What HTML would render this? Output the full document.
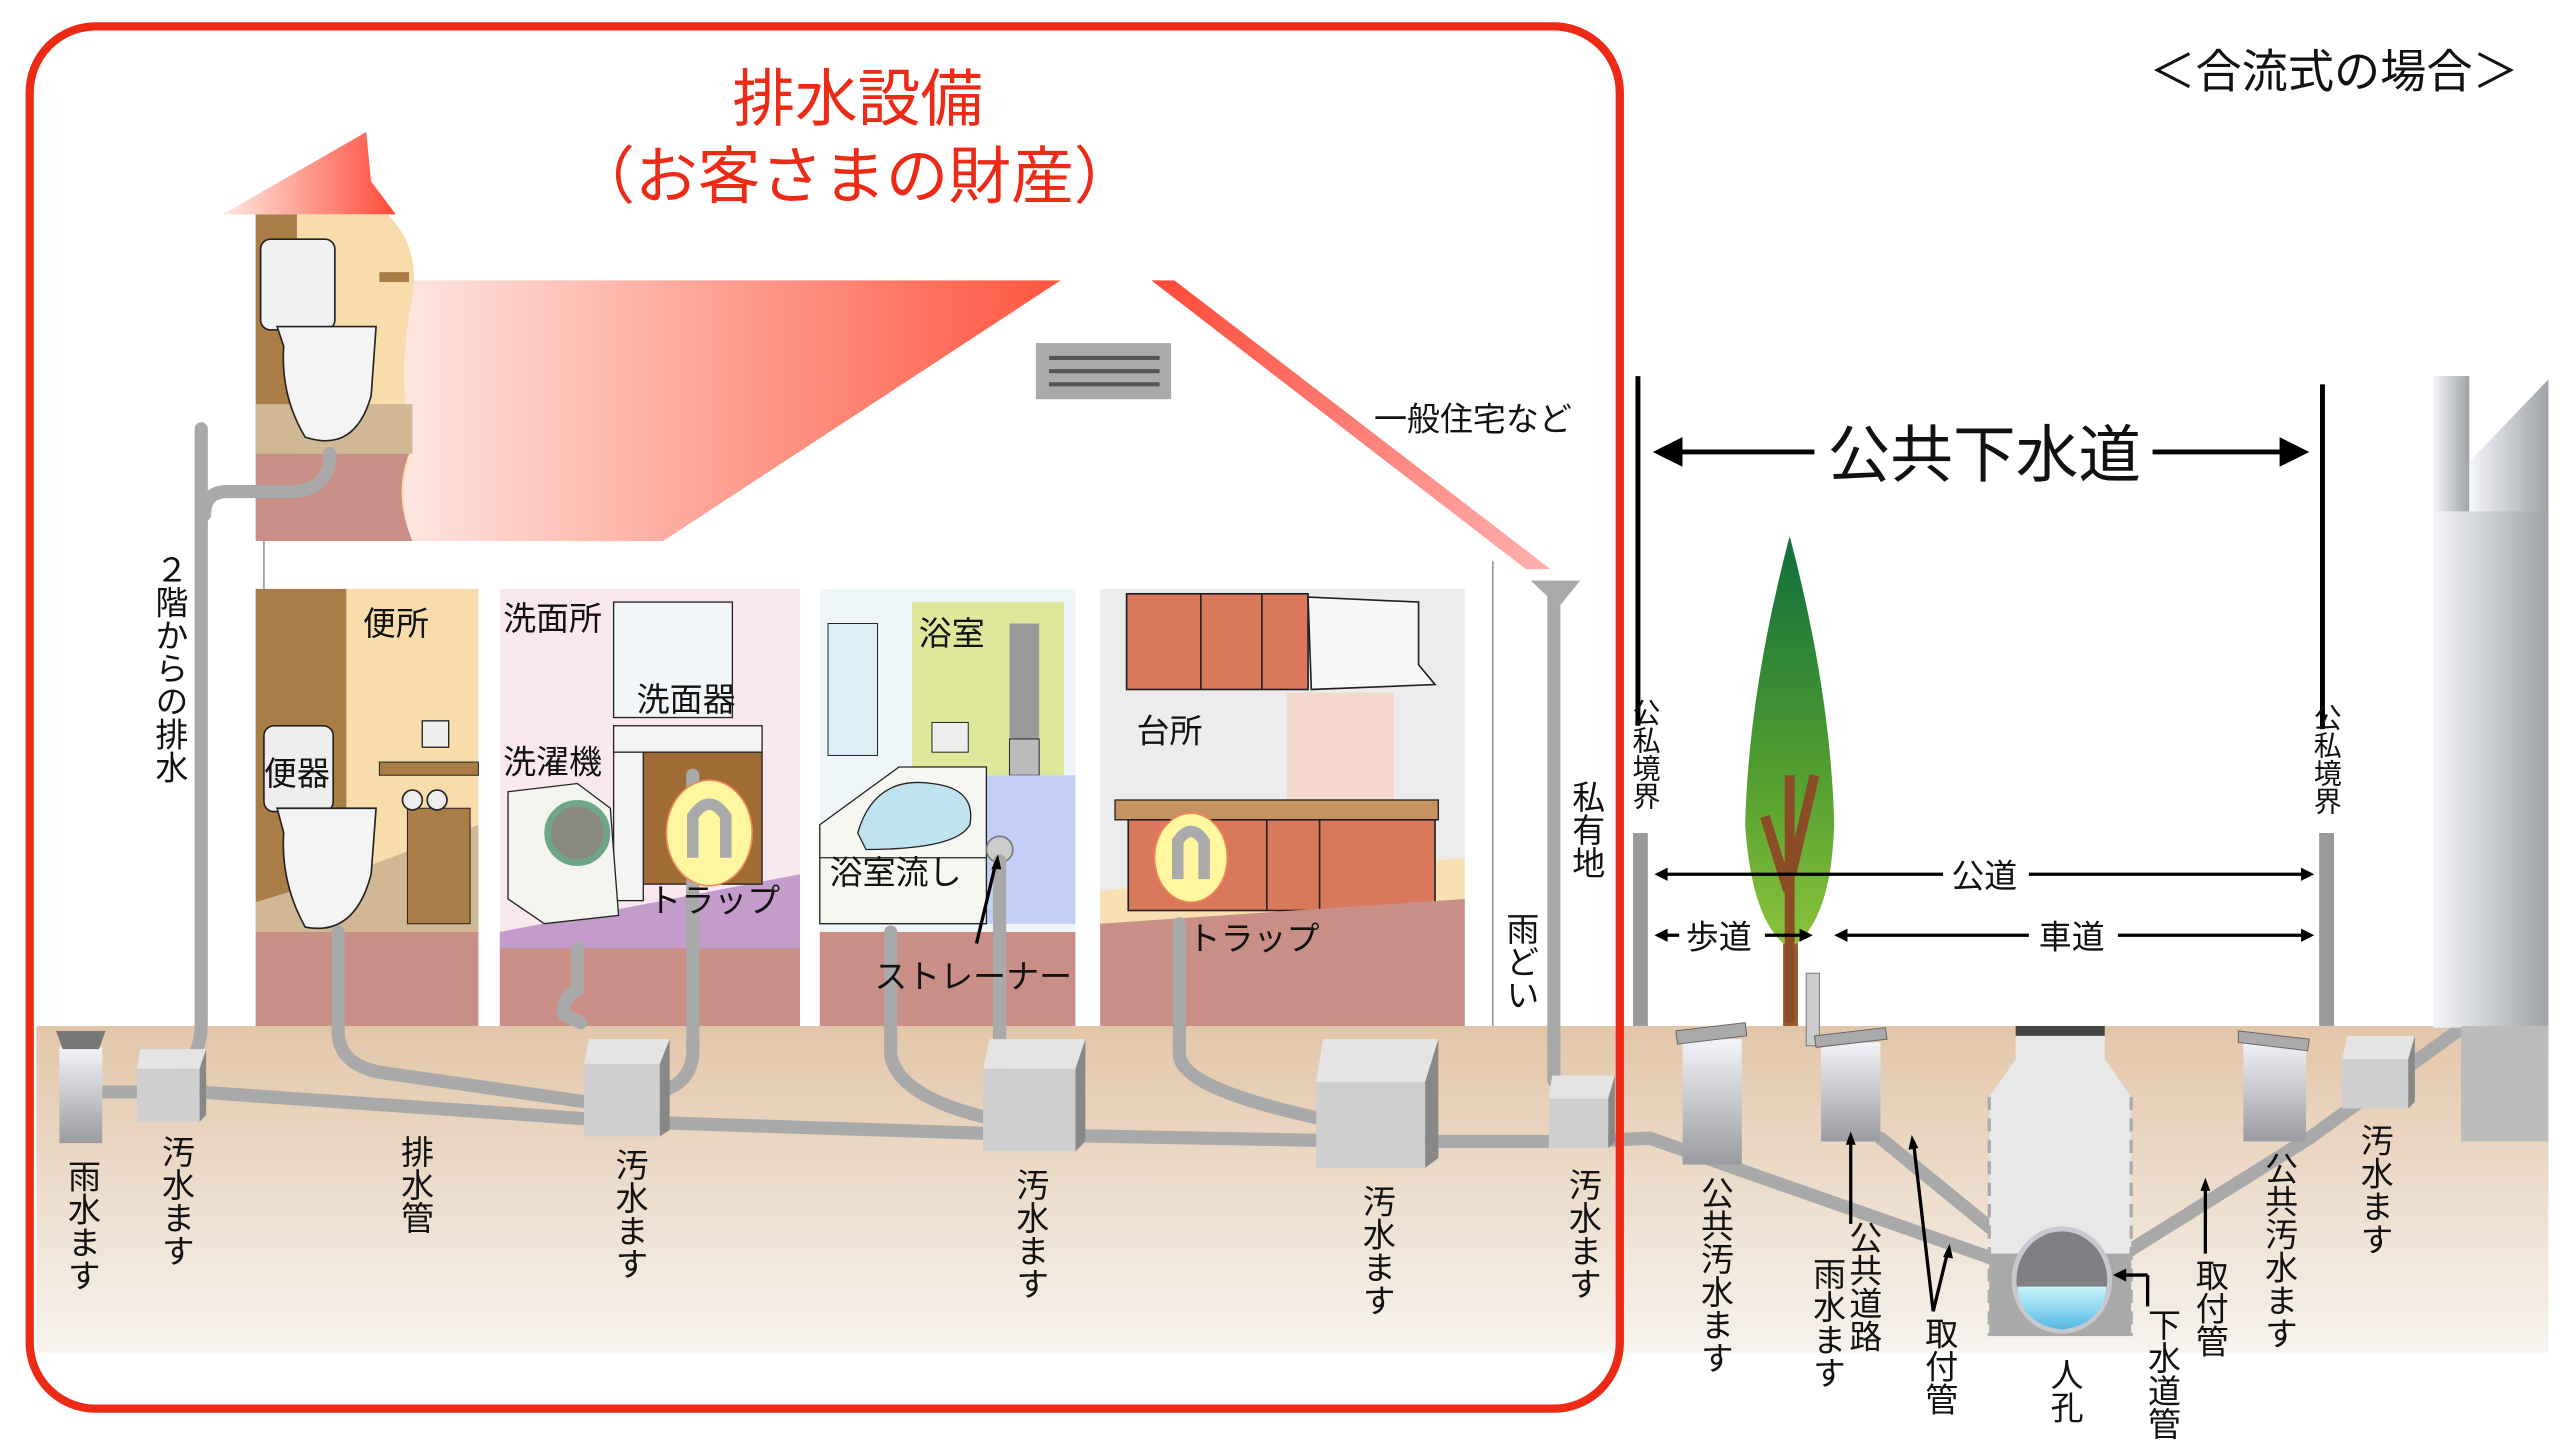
<!DOCTYPE html>
<html><head><meta charset="utf-8"><style>
html,body{margin:0;padding:0;background:#fff;}
svg{display:block;}
text{font-family:"Liberation Sans","Noto Sans CJK JP",sans-serif;fill:#111;}
.v{writing-mode:vertical-rl;font-size:20px;}
.h{font-size:20px;}
</style></head><body>
<svg width="2560" height="1440" viewBox="0 0 1552 873" preserveAspectRatio="none" xmlns="http://www.w3.org/2000/svg">
<defs>
<linearGradient id="gnd" x1="0" y1="0" x2="0" y2="1"><stop offset="0" stop-color="#e2c6a9"/><stop offset="1" stop-color="#f7f3ee"/></linearGradient>
<linearGradient id="roof" x1="0" y1="0" x2="1" y2="0"><stop offset="0" stop-color="#fde8e2"/><stop offset="1" stop-color="#ff5540"/></linearGradient>
<linearGradient id="roof2" x1="0" y1="0" x2="1" y2="1"><stop offset="0" stop-color="#ff4a38"/><stop offset="1" stop-color="#ffb0b0"/></linearGradient>
<linearGradient id="peak" x1="0" y1="0" x2="1" y2="0"><stop offset="0" stop-color="#fde8e2"/><stop offset="1" stop-color="#ff4a38"/></linearGradient>
<linearGradient id="cyl" x1="0" y1="0" x2="0" y2="1"><stop offset="0" stop-color="#f2f4fa"/><stop offset="1" stop-color="#9a9ca2"/></linearGradient>
<linearGradient id="bld" x1="0" y1="0" x2="1" y2="0"><stop offset="0" stop-color="#f4f6fb"/><stop offset="1" stop-color="#9fa2a8"/></linearGradient>
<linearGradient id="tree" x1="0" y1="0" x2="0" y2="1"><stop offset="0" stop-color="#0f6e3c"/><stop offset="0.6" stop-color="#55a030"/><stop offset="1" stop-color="#8cc43c"/></linearGradient>
<linearGradient id="water" x1="0" y1="0" x2="0" y2="1"><stop offset="0" stop-color="#c9f6fb"/><stop offset="1" stop-color="#55b8e6"/></linearGradient>
</defs>

<!-- ground -->
<rect x="22" y="622" width="1523" height="198" fill="url(#gnd)"/>

<!-- roof -->
<polygon points="135,130 222,80 225,110 240,130" fill="url(#peak)"/>
<polygon points="245,170 643,170 402,328 240,328" fill="url(#roof)"/>
<polygon points="698,170 712,170 940,345 925,345" fill="url(#roof2)"/>
<rect x="628" y="208" width="82" height="34" fill="#aaa"/>
<g stroke="#555" stroke-width="2.5"><line x1="636" y1="217" x2="703" y2="217"/><line x1="636" y1="225" x2="703" y2="225"/><line x1="636" y1="233" x2="703" y2="233"/></g>
<line x1="905" y1="340" x2="905" y2="622" stroke="#999" stroke-width="1"/>
<line x1="160" y1="328" x2="160" y2="357" stroke="#999" stroke-width="1"/>

<!-- 2F toilet -->
<path d="M155,130 L235,130 Q255,150 250,180 Q240,230 250,270 Q240,300 250,328 L155,328Z" fill="#f8dcac"/>
<rect x="155" y="130" width="25" height="145" fill="#a97d45"/>
<rect x="155" y="245" width="95" height="30" fill="#cfb893"/>
<path d="M155,275 L248,275 Q238,300 250,328 L155,328Z" fill="#c98e86"/>
<rect x="158" y="145" width="45" height="55" rx="6" fill="#f0f0f0" stroke="#222"/>
<path d="M168,198 L228,198 L225,240 Q215,275 185,265 Q170,240 172,210Z" fill="#f4f4f4" stroke="#222"/>
<rect x="230" y="165" width="18" height="6" fill="#a97d45"/>

<!-- 1F rooms -->
<rect x="155" y="357" width="135" height="265" fill="#f8dcac"/>
<rect x="155" y="357" width="55" height="190" fill="#a97d45"/>
<polygon points="155,547 210,530 290,500 290,565 155,565" fill="#cfb893"/>
<rect x="155" y="565" width="135" height="57" fill="#c98e86"/>
<rect x="160" y="440" width="42" height="52" rx="6" fill="#eee" stroke="#222"/>
<path d="M168,490 L228,490 L225,530 Q215,568 185,562 Q170,535 172,505Z" fill="#f4f4f4" stroke="#222"/>
<rect x="230" y="462" width="60" height="8" fill="#a97d45" stroke="#222" stroke-width="0.6"/>
<rect x="247" y="490" width="38" height="70" fill="#a97d45" stroke="#222" stroke-width="0.6"/>
<circle cx="250" cy="485" r="6" fill="#eee" stroke="#222"/><circle cx="265" cy="485" r="6" fill="#eee" stroke="#222"/>
<rect x="256" y="437" width="16" height="16" fill="#eee" stroke="#222" stroke-width="0.8"/>

<rect x="303" y="357" width="182" height="265" fill="#f9e9ee"/>
<polygon points="303,565 485,530 485,575 303,575" fill="#c39ccb"/>
<rect x="303" y="575" width="182" height="47" fill="#c98e86"/>
<rect x="372" y="365" width="72" height="70" fill="#f3f6f8" stroke="#222" stroke-width="0.8"/>
<rect x="372" y="440" width="90" height="16" fill="#f4f4f4" stroke="#222" stroke-width="0.8"/>
<rect x="390" y="456" width="72" height="80" fill="#a06c35" stroke="#222" stroke-width="0.8"/>
<rect x="372" y="456" width="18" height="90" fill="#f4f4f4" stroke="#222" stroke-width="0.8"/>
<path d="M308,480 L350,475 L370,490 L375,555 L330,560 L308,545Z" fill="#f4f4ee" stroke="#222" stroke-width="0.8"/>
<circle cx="350" cy="505" r="18" fill="#8b8a7e" stroke="#6fa68a" stroke-width="4"/>

<rect x="497" y="357" width="155" height="265" fill="#eef5f8"/>
<rect x="553" y="365" width="92" height="105" fill="#dfe79a"/>
<rect x="612" y="378" width="18" height="70" fill="#999"/>
<rect x="612" y="448" width="18" height="22" fill="#bbb" stroke="#222" stroke-width="0.6"/>
<rect x="565" y="438" width="22" height="18" fill="#eee" stroke="#222" stroke-width="0.6"/>
<rect x="502" y="378" width="30" height="80" fill="#dceef6" stroke="#222" stroke-width="0.6"/>
<polygon points="597,470 652,470 652,560 597,560" fill="#c4cff8"/>
<path d="M497,500 L545,465 L598,465 L598,560 L497,560Z" fill="#f7f7f2" stroke="#222" stroke-width="0.8"/>
<path d="M520,505 Q530,470 565,475 Q592,478 588,500 Q580,515 525,515Z" fill="#bfe2ef" stroke="#222" stroke-width="0.8"/>
<line x1="497" y1="520" x2="598" y2="520" stroke="#222" stroke-width="0.8"/>
<circle cx="606" cy="515" r="8" fill="#ccc" stroke="#777"/>
<rect x="497" y="565" width="155" height="57" fill="#c98e86"/>

<rect x="667" y="357" width="221" height="265" fill="#ececec"/>
<rect x="780" y="420" width="65" height="100" fill="#f5d8cc"/>
<rect x="683" y="360" width="110" height="58" fill="#d9785a" stroke="#222"/>
<line x1="728" y1="360" x2="728" y2="418" stroke="#222"/><line x1="765" y1="360" x2="765" y2="418" stroke="#222"/>
<path d="M793,362 L860,365 L860,403 L870,415 L795,418Z" fill="#f7f7f7" stroke="#222"/>
<polygon points="667,540 888,520 888,558 667,562" fill="#f9e0b3"/>
<rect x="676" y="485" width="196" height="12" fill="#c79262" stroke="#222" stroke-width="0.8"/>
<rect x="684" y="497" width="186" height="55" fill="#d9785a" stroke="#222"/>
<line x1="768" y1="497" x2="768" y2="552" stroke="#222"/><line x1="800" y1="497" x2="800" y2="552" stroke="#222"/>
<rect x="667" y="560" width="221" height="62" fill="#c98e86"/>
<polygon points="667,560 888,545 888,560 667,562" fill="#c98e86"/>

<!-- pipes -->
<g fill="none" stroke="#a9a9a9" stroke-width="8" stroke-linejoin="round" stroke-linecap="round">
<path d="M122,260 L122,620 Q122,640 110,650"/>
<path d="M200,275 Q200,298 175,298 L138,298 Q124,298 124,312"/>
<path d="M50,662 L120,662 L380,680 L625,688 L835,692 L960,692 L1000,690 L1228,770"/>
<path d="M205,565 L205,625 Q205,645 230,650 L355,668"/>
<path d="M350,575 L350,600 Q340,605 342,615 L352,620"/>
<path d="M420,470 L420,640 Q418,655 405,660"/>
<path d="M540,565 L540,640 Q545,665 600,678"/>
<path d="M606,522 L606,640 Q606,660 600,668"/>
<path d="M715,560 L715,640 Q717,660 800,678"/>
<path d="M942,362 L942,655"/>
<path d="M1140,690 L1232,765"/>
<path d="M1400,690 L1272,770"/>
<path d="M1490,625 L1400,690"/>
</g>
<path d="M928,352 L958,352 L945,368 Z" fill="#aaa"/>

<!-- traps -->
<ellipse cx="430" cy="505" rx="26" ry="32" fill="#fff7a0" stroke="#f08a5a"/>
<path d="M420,520 L420,495 Q430,480 440,495 L440,520" fill="none" stroke="#aaa" stroke-width="7"/>
<ellipse cx="722" cy="520" rx="22" ry="27" fill="#fff7a0" stroke="#f08a5a"/>
<path d="M714,533 L714,510 Q722,498 730,510 L730,533" fill="none" stroke="#aaa" stroke-width="7"/>

<!-- boxes -->
<g>
<rect x="36" y="635" width="26" height="58" fill="url(#cyl)"/><path d="M34,625 L64,625 L60,636 L38,636Z" fill="#777"/>
</g>
<g id="b">
<polygon points="83,648 85,636 125,636 121,648" fill="#e4e4e4"/><rect x="83" y="648" width="38" height="32" fill="#cfcfcf"/><polygon points="121,648 125,636 125,676 121,680" fill="#888"/>
</g>
<polygon points="354,645 357,630 406,630 400,645" fill="#e4e4e4"/><rect x="354" y="645" width="46" height="44" fill="#cfcfcf"/><polygon points="400,645 406,630 406,685 400,689" fill="#888"/>
<polygon points="596,648 600,630 658,630 652,648" fill="#e4e4e4"/><rect x="596" y="648" width="56" height="50" fill="#cfcfcf"/><polygon points="652,648 658,630 658,692 652,698" fill="#888"/>
<polygon points="798,656 802,630 872,630 864,656" fill="#e4e4e4"/><rect x="798" y="656" width="66" height="52" fill="#cfcfcf"/><polygon points="864,656 872,630 872,702 864,708" fill="#888"/>
<polygon points="939,666 941,652 979,652 975,666" fill="#e4e4e4"/><rect x="939" y="666" width="36" height="30" fill="#cfcfcf"/><polygon points="975,666 979,652 979,692 975,696" fill="#888"/>
<polygon points="1420,642 1423,628 1464,628 1460,642" fill="#e4e4e4"/><rect x="1420" y="642" width="40" height="30" fill="#cfcfcf"/><polygon points="1460,642 1464,628 1464,668 1460,672" fill="#888"/>

<!-- red frame -->
<rect x="18" y="16" width="964" height="838" rx="40" fill="none" stroke="#ec2a16" stroke-width="5"/>

<!-- public side -->
<rect x="1475" y="228" width="22" height="395" fill="url(#bld)"/>
<polygon points="1497,280 1545,230 1545,623 1497,623" fill="url(#bld)"/>
<rect x="1475" y="310" width="70" height="313" fill="url(#bld)"/>
<rect x="1492" y="622" width="53" height="70" fill="#bcbcbc"/>
<line x1="993" y1="228" x2="993" y2="440" stroke="#000" stroke-width="3"/>
<line x1="1408" y1="233" x2="1408" y2="442" stroke="#000" stroke-width="3"/>
<rect x="990" y="505" width="9" height="117" fill="#999"/>
<rect x="1406" y="505" width="9" height="117" fill="#999"/>
<!-- tree -->
<rect x="1081" y="470" width="9" height="152" fill="#9a5a2e"/>
<path d="M1085,325 Q1060,420 1058,500 Q1062,560 1085,575 Q1110,560 1112,500 Q1110,420 1085,325Z" fill="url(#tree)"/>
<path d="M1085,470 L1085,620 M1086,530 L1100,470 M1084,540 L1070,495" stroke="#8b4d28" stroke-width="6" fill="none"/>
<rect x="1095" y="590" width="8" height="44" fill="#ccc" stroke="#777" stroke-width="0.6"/>
<!-- public basins -->
<rect x="1020" y="630" width="36" height="76" fill="url(#cyl)"/><polygon points="1016,625 1058,620 1059,628 1017,633" fill="#aaa" stroke="#666" stroke-width="0.6"/>
<rect x="1104" y="632" width="36" height="60" fill="url(#cyl)"/><polygon points="1100,628 1143,623 1144,630 1101,635" fill="#aaa" stroke="#666" stroke-width="0.6"/>
<rect x="1360" y="630" width="38" height="62" fill="url(#cyl)"/><polygon points="1357,625 1400,630 1399,637 1357,632" fill="#aaa" stroke="#666" stroke-width="0.6"/>
<!-- manhole -->
<path d="M1222,627 L1276,627 L1276,642 L1292,665 L1292,810 L1206,810 L1206,665 L1222,642Z" fill="#e8e8e8"/>
<rect x="1222" y="622" width="54" height="6" fill="#444"/>
<rect x="1206" y="760" width="86" height="50" fill="#a9a9a9"/>
<g fill="none" stroke="#aaa" stroke-width="2" stroke-dasharray="8,5"><path d="M1206,665 L1206,810 M1292,665 L1292,810"/></g>
<ellipse cx="1250" cy="776" rx="29" ry="31" fill="#7f7f84" stroke="#c8c8d0" stroke-width="3"/>
<path d="M1223,780 L1277,780 Q1275,803 1250,806 Q1225,803 1223,780Z" fill="url(#water)"/>

<!-- arrows -->
<g stroke="#000" stroke-width="3" fill="#000">
<line x1="1010" y1="274" x2="1100" y2="274"/><line x1="1305" y1="274" x2="1392" y2="274"/>
</g>
<polygon points="1002,274 1020,265 1020,283" fill="#000"/><polygon points="1400,274 1382,265 1382,283" fill="#000"/>
<g stroke="#000" stroke-width="2">
<line x1="1008" y1="530" x2="1178" y2="530"/><line x1="1230" y1="530" x2="1398" y2="530"/>
<line x1="1008" y1="567" x2="1018" y2="567"/><line x1="1070" y1="567" x2="1094" y2="567"/>
<line x1="1118" y1="567" x2="1230" y2="567"/><line x1="1284" y1="567" x2="1398" y2="567"/>
<line x1="1122" y1="690" x2="1122" y2="742"/>
<line x1="1160" y1="692" x2="1172" y2="795"/><line x1="1172" y1="795" x2="1181" y2="758"/>
<line x1="1337" y1="718" x2="1337" y2="760"/>
<line x1="1285" y1="773" x2="1302" y2="773"/><line x1="1302" y1="773" x2="1302" y2="792"/>
<line x1="604" y1="522" x2="592" y2="572"/>
</g>
<g fill="#000">
<polygon points="1003,530 1011,526 1011,534"/><polygon points="1403,530 1395,526 1395,534"/>
<polygon points="1003,567 1011,563 1011,571"/><polygon points="1099,567 1091,563 1091,571"/>
<polygon points="1112,567 1120,563 1120,571"/><polygon points="1403,567 1395,563 1395,571"/>
<polygon points="1122,686 1119,694 1125,694"/><polygon points="1159,688 1157,697 1163,696"/>
<polygon points="1182,754 1178,762 1184,763"/><polygon points="1337,714 1334,722 1340,722"/>
<polygon points="1281,773 1289,769 1289,777"/><polygon points="605,518 601,527 607,527"/>
</g>

<!-- titles -->
<text x="520" y="73" text-anchor="middle" font-size="38" style="fill:#ec2a16">排水設備</text>
<text x="518" y="120" text-anchor="middle" font-size="38" style="fill:#ec2a16">（お客さまの財産）</text>
<text x="1415" y="53" text-anchor="middle" font-size="28">＜合流式の場合＞</text>
<text x="1203" y="289" text-anchor="middle" font-size="38">公共下水道</text>
<rect x="1178" y="518" width="50" height="24" fill="#fff"/>

<!-- horizontal labels -->
<text class="h" x="220" y="385">便所</text>
<text class="h" x="160" y="476">便器</text>
<text class="h" x="305" y="382">洗面所</text>
<text class="h" x="386" y="431">洗面器</text>
<text class="h" x="305" y="469">洗濯機</text>
<text class="h" x="393" y="553">トラップ</text>
<text class="h" x="557" y="391">浴室</text>
<text class="h" x="503" y="536">浴室流し</text>
<text class="h" x="530" y="599">ストレーナー</text>
<text class="h" x="689" y="450">台所</text>
<text class="h" x="720" y="576">トラップ</text>
<text class="h" x="833" y="261">一般住宅など</text>
<text class="h" x="1183" y="538">公道</text>
<text class="h" x="1022" y="575">歩道</text>
<text class="h" x="1236" y="575">車道</text>

<!-- vertical labels -->
<text class="v" x="103" y="335">２階からの排水</text>
<text class="v" x="50" y="703">雨水ます</text>
<text class="v" x="107" y="688">汚水ます</text>
<text class="v" x="252" y="688">排水管</text>
<text class="v" x="382" y="696">汚水ます</text>
<text class="v" x="625" y="708">汚水ます</text>
<text class="v" x="835" y="718">汚水ます</text>
<text class="v" x="960" y="708">汚水ます</text>
<text class="v" x="922" y="553">雨どい</text>
<text class="v" x="962" y="473">私有地</text>
<text class="v" x="997" y="423" style="font-size:17px">公私境界</text>
<text class="v" x="1410" y="426" style="font-size:17px">公私境界</text>
<text class="v" x="1040" y="713">公共汚水ます</text>
<text class="v" x="1130" y="740">公共道路</text>
<text class="v" x="1108" y="762">雨水ます</text>
<text class="v" x="1176" y="798">取付管</text>
<text class="v" x="1252" y="823">人孔</text>
<text class="v" x="1311" y="793">下水道管</text>
<text class="v" x="1340" y="763">取付管</text>
<text class="v" x="1382" y="698">公共汚水ます</text>
<text class="v" x="1440" y="681">汚水ます</text>
</svg>
</body></html>
